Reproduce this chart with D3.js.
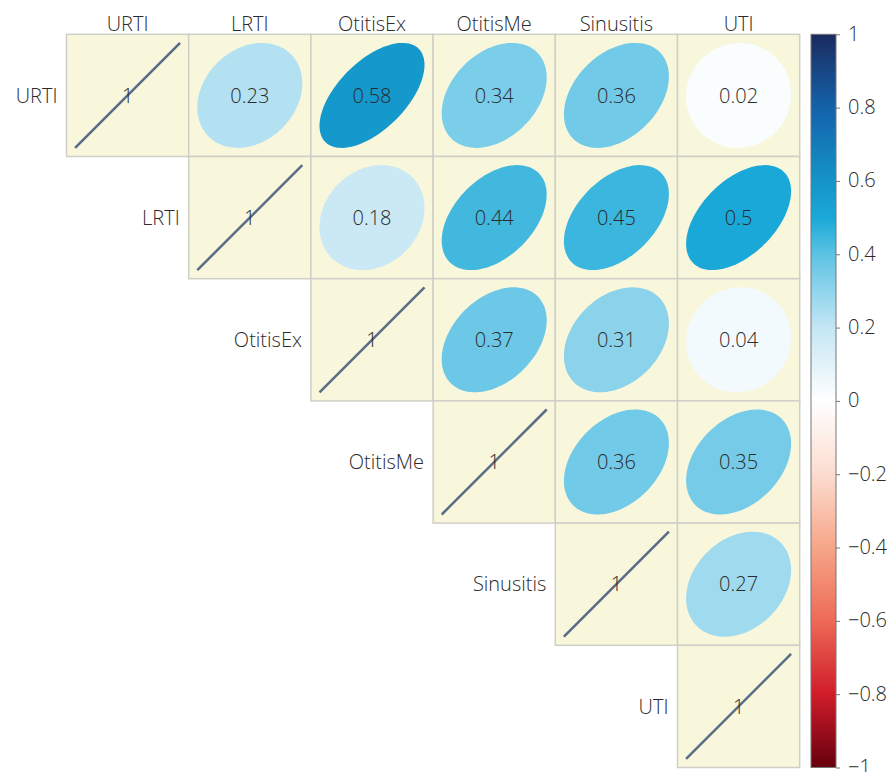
<!DOCTYPE html>
<html>
<head>
<meta charset="utf-8">
<script src="https://cdn.jsdelivr.net/npm/d3@7"></script>
<style>
  body { margin: 0; background: #fff; }
  text { font-family: "Open Sans", "Noto Sans", sans-serif; font-weight: 300; fill: #2b2b2b; }
</style>
</head>
<body>
<div id="chart"></div>
<script>
// variables (rows = columns)
var variables = ["URTI", "LRTI", "OtitisEx", "OtitisMe", "Sinusitis", "UTI"];

// upper triangle of the correlation matrix, one row per variable starting at the diagonal
var rowURTI = [1, 0.23, 0.58, 0.34, 0.36, 0.02];
var rowLRTI = [1, 0.18, 0.44, 0.45, 0.5];
var rowOtitisEx = [1, 0.37, 0.31, 0.04];
var rowOtitisMe = [1, 0.36, 0.35];
var rowSinusitis = [1, 0.27];
var rowUTI = [1];

// colour ramp stops (value -> colour)
var colorStops = [-1, -0.8, -0.6, -0.4, -0.2, 0, 0.2, 0.4, 0.5, 0.6, 0.8, 1];
var colorValues = ["#67000d", "#d01c2a", "#ed6a56", "#f6a688", "#fcdccf", "#ffffff",
                   "#c4e6f4", "#5cc3e4", "#1aa8d8", "#1494c8", "#1462aa", "#1b2a5e"];

// colour bar tick labels
var legendTicks = [1, 0.8, 0.6, 0.4, 0.2, 0, -0.2, -0.4, -0.6, -0.8, -1];

var width = 892, height = 772;
var marginLeft = 66.5, marginTop = 34.3, cell = 122.2;

var svg = d3.select("#chart").append("svg")
    .attr("width", width)
    .attr("height", height);

// build the list of cells from the rows
var rows = [rowURTI, rowLRTI, rowOtitisEx, rowOtitisMe, rowSinusitis, rowUTI];
var cells = [];
rows.forEach(function (row, i) {
    row.forEach(function (r, k) {
        cells.push({ row: variables[i], col: variables[i + k], r: r, diag: k === 0 });
    });
});

var x = d3.scaleBand().domain(variables).range([marginLeft, marginLeft + cell * variables.length]);
var y = d3.scaleBand().domain(variables).range([marginTop, marginTop + cell * variables.length]);
var color = d3.scaleLinear().domain(colorStops).range(colorValues);

// half size of the ellipse in px
var rad = 52.5;

// ellipse path for correlation r (corrplot style)
function ellipsePath(r) {
    var d = Math.acos(r);
    var pts = d3.range(0, 101).map(function (i) {
        var t = i / 100 * 2 * Math.PI;
        return [Math.cos(t + d / 2) * rad, -Math.cos(t - d / 2) * rad];
    });
    return d3.line()(pts) + "Z";
}

// cell backgrounds
svg.selectAll(".bg")
    .data(cells)
    .enter()
    .append("rect")
    .attr("class", "bg")
    .attr("x", d => x(d.col))
    .attr("y", d => y(d.row))
    .attr("width", x.bandwidth())
    .attr("height", y.bandwidth())
    .attr("fill", "#f8f7dc")
    .attr("stroke", "#cfcfc8")
    .attr("stroke-width", 1.5);

var g = svg.selectAll(".cell")
    .data(cells)
    .enter()
    .append("g")
    .attr("class", "cell")
    .attr("transform", d => "translate(" + (x(d.col) + x.bandwidth() / 2) + "," + (y(d.row) + y.bandwidth() / 2) + ")");

// ellipses off the diagonal
g.filter(d => !d.diag)
    .append("path")
    .attr("d", d => ellipsePath(d.r))
    .attr("fill", d => color(d.r));

// diagonal line for r = 1
g.filter(d => d.diag)
    .append("line")
    .attr("x1", -rad).attr("y1", rad)
    .attr("x2", rad).attr("y2", -rad)
    .attr("stroke", "#5a6d86")
    .attr("stroke-width", 2.5);

// coefficient labels
g.append("text")
    .attr("text-anchor", "middle")
    .attr("dy", "0.36em")
    .style("font-size", "20px")
    .text(d => d.r);

// column labels
svg.selectAll(".colLabel")
    .data(variables)
    .enter()
    .append("text")
    .attr("class", "colLabel")
    .attr("x", d => x(d) + x.bandwidth() / 2)
    .attr("y", marginTop - 3)
    .attr("text-anchor", "middle")
    .style("font-size", "20px")
    .text(d => d);

// row labels, to the left of the diagonal cell
svg.selectAll(".rowLabel")
    .data(variables)
    .enter()
    .append("text")
    .attr("class", "rowLabel")
    .attr("x", d => x(d) - 9)
    .attr("y", d => y(d) + y.bandwidth() / 2)
    .attr("dy", "0.36em")
    .attr("text-anchor", "end")
    .style("font-size", "20px")
    .text(d => d);

// colour bar
var barX = 811, barW = 25;
var barScale = d3.scaleLinear().domain([-1, 1]).range([marginTop + cell * 6, marginTop]);

var grad = svg.append("defs").append("linearGradient")
    .attr("id", "grad")
    .attr("x1", 0).attr("y1", 1)
    .attr("x2", 0).attr("y2", 0);
grad.selectAll("stop")
    .data(colorStops)
    .enter()
    .append("stop")
    .attr("offset", d => (d + 1) / 2)
    .attr("stop-color", d => color(d));

svg.append("rect")
    .attr("x", barX)
    .attr("y", barScale(1))
    .attr("width", barW)
    .attr("height", barScale(-1) - barScale(1))
    .attr("fill", "url(#grad)")
    .attr("stroke", "#777")
    .attr("stroke-width", 1);

var axis = svg.append("g")
    .attr("transform", "translate(" + (barX + barW) + ",0)")
    .call(d3.axisRight(barScale).tickValues(legendTicks).tickSize(4).tickPadding(8).tickFormat(d3.format("~g")));
axis.select(".domain").remove();
axis.selectAll(".tick line").attr("stroke", "#777");
axis.selectAll(".tick text")
    .attr("dy", "0.3em")
    .style("font-size", "20px")
    .attr("font-family", null);
</script>
</body>
</html>
